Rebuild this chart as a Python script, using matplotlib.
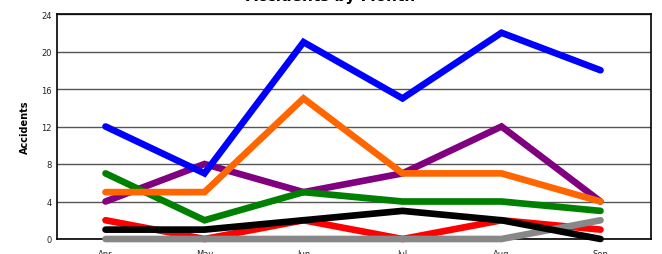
import matplotlib.pyplot as plt
import numpy as np

# data
months = ["Apr", "May", "Jun", "Jul", "Aug", "Sep"]
blue = [12, 7, 21, 15, 22, 18]
orange = [5, 5, 15, 7, 7, 4]
purple = [4, 8, 5, 7, 12, 4]
green = [7, 2, 5, 4, 4, 3]
red = [2, 0, 2, 0, 2, 1]
black = [1, 1, 2, 3, 2, 0]
gray = [0, 0, 0, 0, 0, 2]

fig = plt.figure(figsize=(6.62, 2.55), dpi=100)
ax = fig.add_axes([57/662, 15/255, (651-57)/662, (240-15)/255])

x = np.arange(len(months))

# drawing order bottom -> top
series = [
    (purple, "#800080"),
    (green, "#008000"),
    (orange, "#FF6600"),
    (red, "#FF0000"),
    (gray, "#888888"),
    (black, "#000000"),
    (blue, "#0000FF"),
]
for vals, col in series:
    ax.plot(x, vals, color=col, linewidth=4.8, solid_capstyle="round",
            solid_joinstyle="miter", zorder=3, clip_on=False)

ax.set_xlim(-0.49, 5.51)
ax.set_ylim(0, 24)
ax.set_yticks(range(0, 25, 4))
ax.set_xticks(x)
ax.set_xticklabels(months)
ax.tick_params(axis="both", length=0, labelsize=6, colors="#222222", pad=4)
ax.tick_params(axis="x", pad=7)
ax.grid(axis="y", color="#555555", linewidth=1)
ax.set_axisbelow(True)
for s in ax.spines.values():
    s.set_color("black")
    s.set_linewidth(1.2)

ax.set_ylabel("Accidents", fontsize=7, fontweight="bold", labelpad=8)
fig.text(0.5, 1.012, "Accidents by Month", ha="center", va="center",
         fontsize=11, fontweight="bold")

fig.savefig("out.png", dpi=100)
